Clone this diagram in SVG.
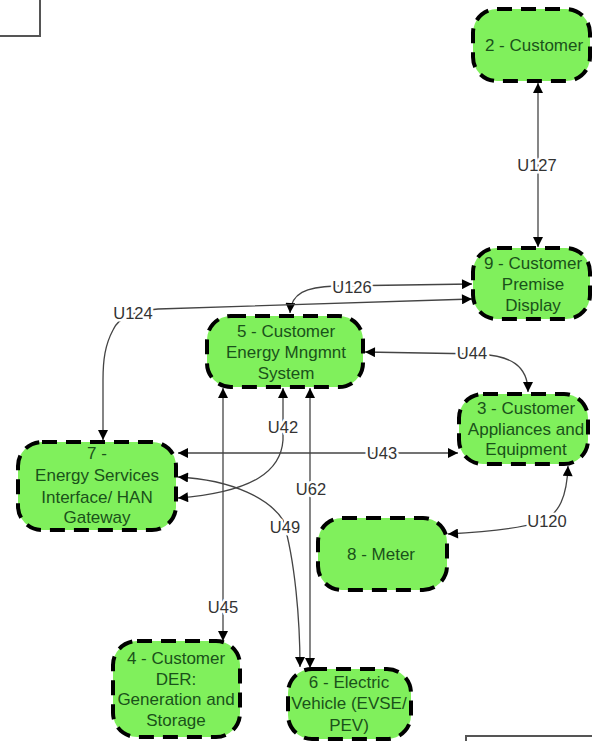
<svg xmlns="http://www.w3.org/2000/svg" width="592" height="741" viewBox="0 0 592 741">
<style>
.node rect{fill:#80f05c;stroke:#000;stroke-width:4;stroke-dasharray:15 9}
.node text{font-family:"Liberation Sans",Arial,sans-serif;font-size:17px;fill:#1a521a;text-anchor:middle}
.conn path{fill:none;stroke:#444;stroke-width:1.3}
.lbl{font-family:"Liberation Sans",Arial,sans-serif;font-size:16.5px;fill:#333;text-anchor:middle;stroke:#fff;stroke-width:5;paint-order:stroke;stroke-linejoin:round}
.frame{fill:none;stroke:#555;stroke-width:2}
</style>
<defs>
<marker id="ah" viewBox="0 0 10 10" refX="10" refY="5" markerWidth="12" markerHeight="10" markerUnits="userSpaceOnUse" orient="auto-start-reverse">
<path d="M0 0 L10 5 L0 10 z" fill="#000"/>
</marker>
</defs>
<rect width="592" height="741" fill="#fff"/>
<path class="frame" d="M0 36 L40 36 L40 0"/>
<path class="frame" d="M466 741 L466 736 L592 736"/>

<g id="connectors" class="conn">
<path id="U127" d="M538 83 L538 247" marker-start="url(#ah)" marker-end="url(#ah)"/>
<path id="U126" d="M472 284 L335 286 C306 287 291 293 290 313" marker-start="url(#ah)" marker-end="url(#ah)"/>
<path id="U124" d="M472 299 L158 309 C132 311 118 318 113 330 C105 345 103 360 103 380 L103 440" marker-start="url(#ah)" marker-end="url(#ah)"/>
<path id="U44" d="M365 352 L480 354 C510 356 528 365 528 392" marker-start="url(#ah)" marker-end="url(#ah)"/>
<path id="U43" d="M178 453 L458 453" marker-start="url(#ah)" marker-end="url(#ah)"/>
<path id="U42" d="M283 388 L283 440 C281 470 255 492 178 498" marker-start="url(#ah)" marker-end="url(#ah)"/>
<path id="U45" d="M223 388 L223 641" marker-start="url(#ah)" marker-end="url(#ah)"/>
<path id="U62" d="M310 388 L310 668" marker-start="url(#ah)" marker-end="url(#ah)"/>
<path id="U49" d="M178 477 C235 480 270 500 283 520 C295 560 300 620 300 667" marker-start="url(#ah)" marker-end="url(#ah)"/>
<path id="U120" d="M448 534 C490 532 520 528 540 522 C560 515 567 495 568 466" marker-start="url(#ah)" marker-end="url(#ah)"/>
<text class="lbl" x="537" y="171">U127</text>
<text class="lbl" x="352" y="293">U126</text>
<text class="lbl" x="133" y="319">U124</text>
<text class="lbl" x="472" y="359">U44</text>
<text class="lbl" x="283" y="433">U42</text>
<text class="lbl" x="382" y="459">U43</text>
<text class="lbl" x="311" y="495">U62</text>
<text class="lbl" x="285" y="533">U49</text>
<text class="lbl" x="547" y="527">U120</text>
<text class="lbl" x="223" y="613">U45</text>
</g>

<g id="node2" class="node">
<rect x="473" y="9" width="117" height="72" rx="24"/>
<text x="534" y="51">2 - Customer</text>
</g>
<g id="node9" class="node">
<rect x="473" y="248" width="117" height="71" rx="24"/>
<text x="533" y="269">9 - Customer</text>
<text x="533" y="290">Premise</text>
<text x="533" y="311">Display</text>
</g>
<g id="node5" class="node">
<rect x="207" y="316" width="156" height="71" rx="24"/>
<text x="286" y="337">5 - Customer</text>
<text x="286" y="358">Energy Mngmnt</text>
<text x="286" y="379">System</text>
</g>
<g id="node3" class="node">
<rect x="459" y="394" width="129" height="70" rx="24"/>
<text x="526" y="414">3 - Customer</text>
<text x="526" y="435">Appliances and</text>
<text x="526" y="455">Equipment</text>
</g>
<g id="node7" class="node">
<rect x="18" y="442" width="158" height="88" rx="24"/>
<text x="97" y="459">7 -</text>
<text x="97" y="481">Energy Services</text>
<text x="97" y="503">Interface/ HAN</text>
<text x="97" y="523">Gateway</text>
</g>
<g id="node8" class="node">
<rect x="318" y="518" width="129" height="72" rx="24"/>
<text x="381" y="560">8 - Meter</text>
</g>
<g id="node4" class="node">
<rect x="113" y="641" width="127" height="96" rx="24"/>
<text x="176" y="664">4 - Customer</text>
<text x="176" y="685">DER:</text>
<text x="176" y="705">Generation and</text>
<text x="176" y="726">Storage</text>
</g>
<g id="node6" class="node">
<rect x="288" y="669" width="123" height="70" rx="24"/>
<text x="349" y="688">6 - Electric</text>
<text x="349" y="709">Vehicle (EVSE/</text>
<text x="349" y="731">PEV)</text>
</g>
</svg>
